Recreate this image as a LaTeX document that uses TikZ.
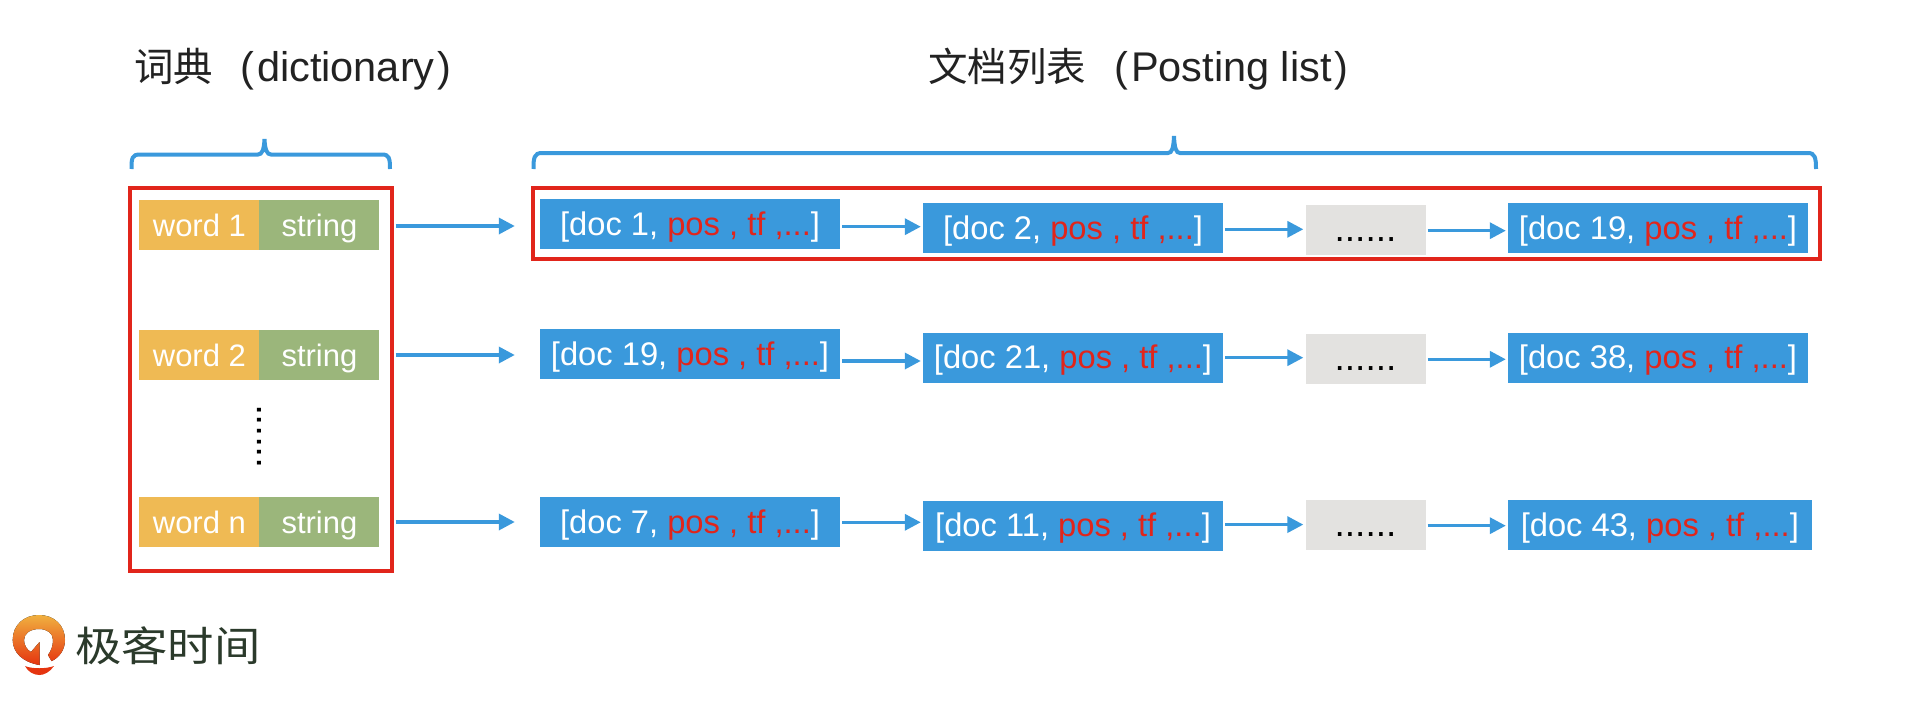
\documentclass[tikz,border=0pt]{standalone}
\usepackage{fontspec}
\setmainfont{Liberation Sans}
\newfontfamily\cjkfont{Noto Sans CJK SC}
\usetikzlibrary{arrows.meta, positioning}

\definecolor{wordfill}{HTML}{EFBA54}
\definecolor{stringfill}{HTML}{9BB67B}
\definecolor{docfill}{HTML}{3A99DC}
\definecolor{gapfill}{HTML}{E3E2E0}
\definecolor{framered}{HTML}{E1251B}
\definecolor{titleink}{HTML}{222222}
\definecolor{logoink}{HTML}{2B3A2B}
\definecolor{logotop}{HTML}{F0B040}
\definecolor{logolow}{HTML}{E5340F}

\newcommand{\doclabel}[1]{[#1, \textcolor{framered}{pos , tf ,...}]}
\newcommand{\cjkpart}[1]{{\cjkfont\fontsize{39.5}{46}\selectfont #1}}

\tikzset{
  cell/.style = {inner sep = 0pt, text = white, minimum height = 50pt, text height = 36pt, text depth = 14pt,
    font = \fontsize{31}{36}\selectfont},
  wordcell/.style = {cell, fill = wordfill, minimum width = 120pt},
  stringcell/.style = {cell, fill = stringfill, minimum width = 120pt},
  doccell/.style = {cell, fill = docfill, minimum width = 300pt, font = \fontsize{32.7}{36}\selectfont},
  gapcell/.style = {cell, fill = gapfill, minimum width = 120pt, text = black, font = \fontsize{37}{44}\selectfont},
  frame/.style = {draw = framered, line width = 4pt, inner sep = 0pt},
  bracket/.style = {draw = docfill, line width = 4pt},
  title/.style = {anchor = base west, inner sep = 0pt, text = titleink, font = \fontsize{41.5}{46}\selectfont},
  into/.style = {draw = docfill, line width = 3.4pt, -{Triangle[length = 16pt, width = 16pt]}, shorten <= 16pt, shorten >= 25pt},
  link/.style = {draw = docfill, line width = 3.4pt, -{Triangle[length = 16pt, width = 16pt]}, shorten <= 2pt, shorten >= 2pt}
}

\begin{document}
\begin{tikzpicture}[x = 1pt, y = -1pt, node distance = 120pt, on grid]
  \useasboundingbox (0, 0) rectangle (1920, 712);

  \node[title] (dicttitle) at (134, 81) {\cjkpart{词典}\hspace{27pt}(\hspace{3pt}dictionary\hspace{3pt})};
  \node[title] (listtitle) at (928, 81) {\cjkpart{文档列表}\hspace{28pt}(\hspace{3pt}Posting list\hspace{3pt})};

  % brackets under the titles
  \draw[bracket] (131.5, 169) .. controls (131.5, 158) and (132, 154.5) .. (140, 154.5) -- (258, 154.5)
    .. controls (262, 154.5) and (264, 150) .. (264.5, 139) .. controls (265, 150) and (267, 154.5) .. (271, 154.5)
    -- (382, 154.5) .. controls (389, 154.5) and (390, 158) .. (390, 169);
  \draw[bracket] (533.5, 169) .. controls (533.5, 158) and (534, 153) .. (542, 153) -- (1168, 153)
    .. controls (1172, 153) and (1173.5, 148) .. (1174, 136) .. controls (1174.5, 148) and (1176, 153) .. (1180, 153)
    -- (1808, 153) .. controls (1815, 153) and (1816, 158) .. (1816, 169);

  % dictionary
  \node[wordcell] (word1) at (199.4, 225) {word 1};
  \node[stringcell] (str1) [right=of word1] {string};
  \node[wordcell] (word2) at (199.4, 355) {word 2};
  \node[stringcell] (str2) [right=of word2] {string};
  \node[wordcell] (wordn) at (199.4, 522) {word n};
  \node[stringcell] (strn) [right=of wordn] {string};
  \node[anchor = base, rotate = 90, inner sep = 0pt, font = \fontsize{38.5}{44}\selectfont] (vdots) at (261.5, 436.5) {......};

  % first posting list
  \node[doccell] (doc11) at (690, 224.3) {\doclabel{doc 1}};
  \node[doccell] (doc12) [below right=3.7pt and 383pt of doc11] {\doclabel{doc 2}};
  \node[gapcell] (gap1) [below right=2.3pt and 292.5pt of doc12] {......};
  \node[doccell] (doc14) [above right=2.3pt and 292.5pt of gap1] {\doclabel{doc 19}};

  % second posting list
  \node[doccell] (doc21) at (690, 354) {\doclabel{doc 19}};
  \node[doccell] (doc22) [below right=3.7pt and 383pt of doc21] {\doclabel{doc 21}};
  \node[gapcell] (gap2) [below right=1.3pt and 292.5pt of doc22] {......};
  \node[doccell] (doc24) [above right=1.3pt and 292.5pt of gap2] {\doclabel{doc 38}};

  % last posting list
  \node[doccell] (doc31) at (690, 522.3) {\doclabel{doc 7}};
  \node[doccell] (doc32) [below right=3.5pt and 383pt of doc31] {\doclabel{doc 11}};
  \node[gapcell] (gap3) [above right=0.8pt and 292.5pt of doc32] {......};
  \node[doccell, minimum width = 303.6pt] (doc34) [below right=0.2pt and 294.3pt of gap3] {\doclabel{doc 43}};

  \node[frame, minimum width = 261.8pt, minimum height = 382.8pt] (dictframe) at (260.9, 379.1) {};
  \node[frame, minimum width = 1287.4pt, minimum height = 71.5pt] (listframe) at (1176.7, 223.5) {};

  \draw[into] ([yshift=-1pt]str1.east) -- ([yshift=-1pt]str1.east -| doc11.west);
  \draw[into] (str2.east) -- (str2.east -| doc21.west);
  \draw[into] (strn.east) -- (strn.east -| doc31.west);

  \draw[link] ([yshift=-2.4pt]doc11.east) -- ([yshift=-2.4pt]doc11.east -| doc12.west);
  \draw[link] ([yshift=-1.3pt]doc12.east) -- ([yshift=-1.3pt]doc12.east -| gap1.west);
  \draw[link] ([yshift=-0.4pt]gap1.east) -- ([yshift=-0.4pt]gap1.east -| doc14.west);
  \draw[link] ([yshift=-7pt]doc21.east) -- ([yshift=-7pt]doc21.east -| doc22.west);
  \draw[link] (doc22.east) -- (doc22.east -| gap2.west);
  \draw[link] ([yshift=-0.3pt]gap2.east) -- ([yshift=-0.3pt]gap2.east -| doc24.west);
  \draw[link] (doc31.east) -- (doc31.east -| doc32.west);
  \draw[link] ([yshift=1.2pt]doc32.east) -- ([yshift=1.2pt]doc32.east -| gap3.west);
  \draw[link] ([yshift=-0.7pt]gap3.east) -- ([yshift=-0.7pt]gap3.east -| doc34.west);

  % logo
  \fill[top color = logotop, bottom color = logolow]
    (39.5, 665) .. controls (22, 662) and (12.7, 652) .. (12.7, 640)
    .. controls (12.7, 625) and (24, 615) .. (39, 615)
    .. controls (54, 615) and (65, 625) .. (65, 640)
    .. controls (65, 650) and (59, 658) .. (51.5, 661)
    -- (48, 655)
    .. controls (51, 651) and (53, 646) .. (53, 640)
    .. controls (53, 633) and (47, 629) .. (39, 629)
    .. controls (31, 629) and (24, 633) .. (24, 640)
    .. controls (24, 645) and (27, 650) .. (31, 652)
    -- (39.5, 642) -- cycle;
  \fill[logolow] (25, 666) .. controls (32, 669) and (46, 669) .. (54, 666)
    .. controls (50, 672) and (44, 675) .. (39.5, 675) .. controls (34, 675) and (28, 672) .. (25, 666) -- cycle;
  \node[anchor = base west, inner sep = 0pt, text = logoink, xscale = 1.13, transform shape,
    font = \cjkfont\fontsize{41}{46}\selectfont] (logotext) at (75, 661) {极客时间};
\end{tikzpicture}
\end{document}
